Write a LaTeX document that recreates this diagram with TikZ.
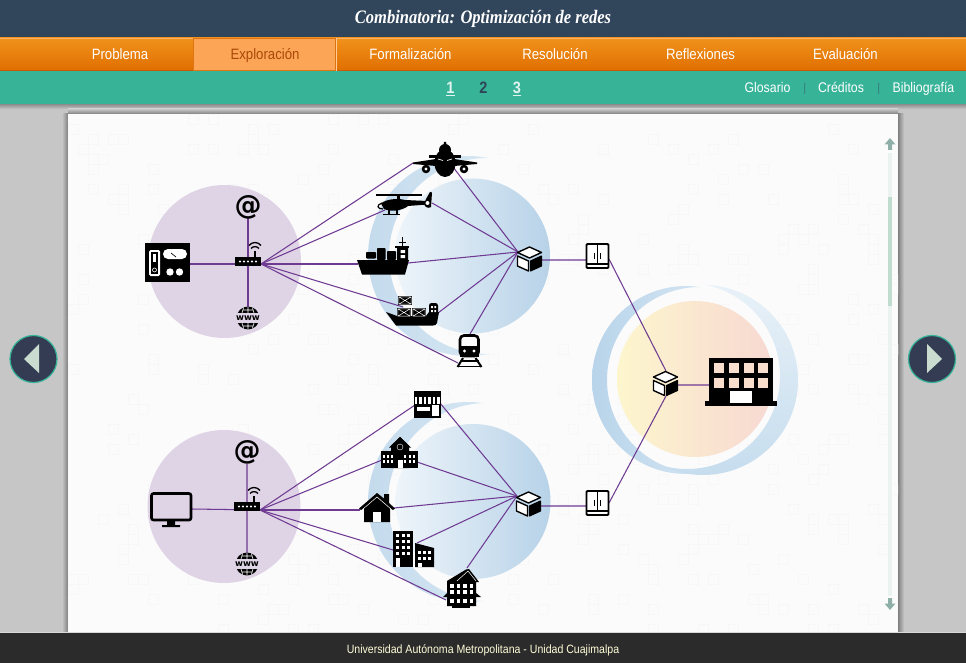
\documentclass[tikz,border=0pt]{standalone}
\usepackage{fontspec}
\setmainfont{Liberation Sans}
\newfontfamily\navfont[FakeStretch=0.88]{Liberation Sans}
\newfontfamily\titlefont[FakeStretch=0.87]{Liberation Serif}
\newfontfamily\atfont{DejaVu Sans}
\definecolor{navy}{HTML}{2F4359}
\definecolor{navyline}{HTML}{34495F}
\definecolor{teal}{HTML}{37B398}
\definecolor{pagegray}{HTML}{C6C6C6}
\definecolor{foot}{HTML}{2B2B2B}
\definecolor{link}{HTML}{6F3A92}
\definecolor{lilac}{HTML}{DED1E5}
\definecolor{navbtn}{HTML}{333C52}
\definecolor{navtri}{HTML}{CADCD0}
\definecolor{scrollarrow}{HTML}{8FB0A9}
\definecolor{orangetop}{HTML}{F0921C}
\definecolor{orangebot}{HTML}{E06E00}
\definecolor{orangeline}{HTML}{C65C04}
\definecolor{tabfill}{HTML}{FDA556}
\definecolor{tabline}{HTML}{E07410}
\definecolor{tabtext}{HTML}{A84808}
\definecolor{scrolltrack}{HTML}{EAF3F0}
\definecolor{scrollthumb}{HTML}{BFDCCF}
\definecolor{cresA}{HTML}{C4DBED}
\definecolor{cresB}{HTML}{E2EEF6}
\definecolor{cresC}{HTML}{B8D4EA}
\definecolor{cresD}{HTML}{E8F1F8}
\definecolor{cresE}{HTML}{C6DDEE}
\definecolor{discL}{HTML}{EEF5FA}
\definecolor{discR}{HTML}{B7D2E8}
\definecolor{warmL}{HTML}{FDF6CD}
\definecolor{warmR}{HTML}{F7D8D2}
\definecolor{bldwin}{HTML}{FADECD}
\newcommand\cres[5]{%
  \begin{scope}[even odd rule]
    \clip #1 circle (#2);
    \clip (-20,-20) rectangle (1000,700) #3 circle (#4);
    \shade[#5] #1 circle (#2);
  \end{scope}}
\tikzset{
  x=1pt,y=-1pt,
  linkline/.style={draw=link,line width=1.05pt},
  navtext/.style={anchor=base,text=white,font=\navfont\fontsize{15}{15}\selectfont,inner sep=0pt},
  subtext/.style={anchor=base,text=white,font=\navfont\fontsize{14}{14}\selectfont,inner sep=0pt},
  pagenum/.style={anchor=base,inner sep=0pt,font=\navfont\bfseries\fontsize{16.5}{16.5}\selectfont},
  iconhub/.pic={
    \fill[white,draw=black,line width=1.4pt,line join=round] (0,-12)--(12,-6.5)--(0,-1)--(-12,-6.5)--cycle;
    \fill[white,draw=black,line width=1.4pt,line join=round] (-12,-3)--(-1,2)--(-1,12)--(-12,7)--cycle;
    \fill[black,draw=black,line width=1.1pt,line join=round] (1,2)--(12,-3)--(12,7)--(1,12)--cycle;
  },
  iconcab/.pic={
    \draw[fill=white,draw=black,line width=1.8pt,rounded corners=1pt] (-11,-12) rectangle (11,12);
    \draw[black,line width=1.5pt] (-11,8)--(11,8);
    \draw[black,line width=1.2pt] (0,-12)--(0,8);
    \draw[black,line width=1.7pt] (-3,-3)--(-3,3) (3,-3)--(3,3);
  },
  iconrouter/.pic={
    \fill[black] (-13,-4.5) rectangle (13,4.5);
    \foreach \d in {-8,-4,0,4,8}{\fill[white] (\d,0) circle (1.1);}
    \draw[black,line width=1.6pt] (7,-4)--(7,-11);
    \draw[black,line width=1.3pt] (3,-13) .. controls (5,-15.5) and (9,-15.5) .. (11,-13);
    \draw[black,line width=1.3pt] (1,-16) .. controls (4,-20) and (10,-20) .. (13,-16);
  },
  iconglobe/.pic={
    \begin{scope}
      \clip (0,0) circle (11.5);
      \fill[black] (-12,-12) rectangle (12,-5);
      \fill[black] (-12,5) rectangle (12,12);
      \draw[white,line width=0.6pt] (-5,-8)--(5,-8) (-5,8)--(5,8) (0,-12)--(0,-5) (0,5)--(0,12) (-4,-12)--(-6,-5) (4,-12)--(6,-5) (-4,12)--(-6,5) (4,12)--(6,5);
    \end{scope}
    \node[inner sep=0pt,font=\atfont\bfseries\fontsize{8.6}{8.6}\selectfont] at (0,0) {www};
  },
}
\begin{document}
\begin{tikzpicture}
\useasboundingbox (0,0) rectangle (966,663);
% ---------- page background
\fill[pagegray] (0,0) rectangle (966,663);
\shade[top color=black!45,bottom color=pagegray] (0,104) rectangle (966,109);
\shade[left color=pagegray,right color=black!50] (62,114) rectangle (68,632);
\shade[left color=black!50,right color=pagegray] (898,114) rectangle (904,632);
\shade[top color=pagegray,bottom color=black!50] (68,109) rectangle (898,114);
% ---------- panel
\fill[white!98.5!black] (68,114) rectangle (898,632);
\pgfmathsetseed{4711}
\begin{scope}
\clip (68,114) rectangle (898,632);
\foreach \i in {1,...,420}{
  \pgfmathsetmacro\qx{68+10*int(rnd*83)}
  \pgfmathsetmacro\qy{114+10*int(rnd*52)}
  \draw[black!3,line width=0.5pt] (\qx,\qy) rectangle ++(10,10);
}
\end{scope}
% ---------- header bars
\fill[navy] (0,0) rectangle (966,38);
\begin{scope}
\clip (0,0) rectangle (966,38);
\foreach \i in {0,3,...,1010}{\draw[navyline,line width=0.7pt] (\i,0)--(\i-40,38);}
\end{scope}
\shade[top color=orangetop,bottom color=orangebot] (0,38) rectangle (966,71);
\fill[orange!60!white] (0,38) rectangle (966,39);
\fill[orangeline] (0,70) rectangle (966,71.5);
\fill[tabfill,draw=tabline,line width=1pt] (193.5,38.5) rectangle (335.5,70.5);
\fill[orange!40!white] (336,38) rectangle (337,71);
\fill[teal] (0,71.5) rectangle (966,104);
\node[anchor=base,inner sep=0pt,text=white,font=\titlefont\bfseries\itshape\fontsize{19}{19}\selectfont] (title) at (483,24) {Combinatoria: Optimización de redes};
\node[navtext] (nav1) at (120,60) {Problema};
\node[navtext,text=tabtext] (nav2) at (265,60) {Exploración};
\node[navtext] (nav3) at (410.5,60) {Formalización};
\node[navtext] (nav4) at (555,60) {Resolución};
\node[navtext] (nav5) at (700.5,60) {Reflexiones};
\node[navtext] (nav6) at (845.5,60) {Evaluación};
\node[pagenum,text=white!85!teal] (p1) at (450.5,93.5) {\underline{1}};
\node[pagenum,text=navy] (p2) at (483.5,93.5) {2};
\node[pagenum,text=white!85!teal] (p3) at (517,93.5) {\underline{3}};
\node[subtext] (g1) at (767.5,93) {Glosario};
\node[subtext] (g2) at (841,93) {Créditos};
\node[subtext] (g3) at (923.5,93) {Bibliografía};
\fill[teal!60!navy] (804,83) rectangle (805,94) (878,83) rectangle (879,94);
% ---------- footer
\fill[foot] (0,632) rectangle (966,663);
\fill[black!15] (0,631.5) rectangle (966,632.5);
\node[anchor=base,inner sep=0pt,text=white!85!yellow,font=\navfont\fontsize{12}{12}\selectfont] (footer) at (483,653) {Universidad Autónoma Metropolitana - Unidad Cuajimalpa};
% ---------- side buttons
\node[circle,fill=navbtn,draw=teal,line width=1.2pt,minimum size=47pt,inner sep=0pt] (btnL) at (33.5,359) {};
\node[circle,fill=navbtn,draw=teal,line width=1.2pt,minimum size=47pt,inner sep=0pt] (btnR) at (932,359) {};
\fill[navtri] (24,359)--(39,344)--(39,373)--cycle;
\fill[navtri] (942,359)--(927,344)--(927,373)--cycle;
% ---------- scrollbar
\fill[scrolltrack] (888,153) rectangle (892,596);
\fill[scrollthumb] (888,197) rectangle (892,306);
\fill[scrollarrow] (890,138)--(895.5,144.5)--(892,144.5)--(892,150)--(888,150)--(888,144.5)--(884.5,144.5)--cycle;
\fill[scrollarrow] (890,610)--(895.5,603.5)--(892,603.5)--(892,598)--(888,598)--(888,603.5)--(884.5,603.5)--cycle;
% ---------- backgrounds
\fill[lilac,opacity=.95] (224.5,261.5) circle (76.5);
\fill[lilac,opacity=.95] (224,506.5) circle (76.5);
\cres{(468,256)}{100}{(487,256)}{98}{left color=cresA,right color=cresB}
\shade[left color=discL,right color=discR] (472.5,256) circle (77.5);
\cres{(468,502)}{100}{(487,502)}{99}{left color=cresA,right color=cresB}
\shade[left color=discL,right color=discR] (473,501.5) circle (77.5);
\cres{(686,380)}{94}{(700,380)}{93}{left color=cresC,right color=cresD}
\cres{(703,380)}{95}{(687,376)}{93}{top color=cresD,bottom color=cresE}
\shade[left color=warmL,right color=warmR] (695,379) circle (78);
% ---------- connector end points
\coordinate (atA) at (248,218);
\coordinate (fanA) at (261,264);
\coordinate (wwwA) at (248,308);
\coordinate (devA) at (190,264);
\coordinate (planeIn) at (413,163);
\coordinate (heliIn) at (385,210);
\coordinate (shipIn) at (358,264);
\coordinate (cargoIn) at (403,307);
\coordinate (trainIn) at (458,363);
\coordinate (planeOut) at (453,167);
\coordinate (heliOut) at (432,203);
\coordinate (shipOut) at (408,263);
\coordinate (cargoOut) at (438,313);
\coordinate (trainOut) at (470,334);
\coordinate (hubAIn) at (518,252);
\coordinate (hubAOut) at (542,260);
\coordinate (cabAIn) at (586,260);
\coordinate (cabAOut) at (609,259);
\coordinate (bigTop) at (666,371);
\coordinate (bigBot) at (666,396);
\coordinate (bigOut) at (678,385);
\coordinate (bldIn) at (709,385);
\coordinate (atB) at (247,464);
\coordinate (fanB) at (260,510);
\coordinate (wwwB) at (247,553);
\coordinate (monB) at (192,509);
\coordinate (storeIn) at (415,405);
\coordinate (schoolIn) at (382,460);
\coordinate (houseIn) at (360,510);
\coordinate (officeIn) at (393,550);
\coordinate (aptIn) at (446,600);
\coordinate (storeOut) at (440,403);
\coordinate (schoolOut) at (417,462);
\coordinate (houseOut) at (394,508);
\coordinate (officeOut) at (417,543);
\coordinate (aptOut) at (467,568);
\coordinate (hubBIn) at (517,496);
\coordinate (hubBOut) at (541,506);
\coordinate (cabBIn) at (586,506);
\coordinate (cabBOut) at (609,503);
% ---------- connectors
\draw[linkline] (atA)--(wwwA) (devA)--(fanA);
\foreach \t in {planeIn,heliIn,shipIn,cargoIn,trainIn}{\draw[linkline] (fanA)--(\t);}
\foreach \t in {planeOut,heliOut,shipOut,cargoOut,trainOut}{\draw[linkline] (\t)--(hubAIn);}
\draw[linkline] (hubAOut)--(cabAIn) (cabAOut)--(bigTop);
\draw[linkline] (atB)--(wwwB) (monB)--(fanB);
\foreach \t in {storeIn,schoolIn,houseIn,officeIn,aptIn}{\draw[linkline] (fanB)--(\t);}
\foreach \t in {storeOut,schoolOut,houseOut,officeOut,aptOut}{\draw[linkline] (\t)--(hubBIn);}
\draw[linkline] (hubBOut)--(cabBIn) (cabBOut)--(bigBot) (bigOut)--(bldIn);
% ---------- network icons
\pic at (248,261.5) {iconrouter};
\pic at (247,506.5) {iconrouter};
\pic at (248,318) {iconglobe};
\pic at (247,564) {iconglobe};
\node[inner sep=0pt,font=\atfont\bfseries\fontsize{27}{27}\selectfont] (atIconA) at (248,207) {@};
\node[inner sep=0pt,font=\atfont\bfseries\fontsize{27}{27}\selectfont] (atIconB) at (247,452) {@};
\pic at (529.5,259) {iconhub};
\pic at (528.5,504) {iconhub};
\pic at (665.5,383.5) {iconhub};
\pic at (597.5,256) {iconcab};
\pic at (597.5,503) {iconcab};
% device
\fill[black] (145,243) rectangle (190,281.5);
\fill[white,rounded corners=1.5pt] (149,250) rectangle (160,276);
\fill[black] (151,252) rectangle (158,274);
\fill[white] (153,254) rectangle (156,262);
\draw[white,line width=.6pt] (154.5,270) circle (2);
\fill[white,rounded corners=5pt] (163,249) rectangle (187,259);
\draw[black,line width=.7pt] (171,253)--(176,257);
\fill[white] (170,272) circle (3.7) (179.5,272) circle (3.7);
% monitor
\draw[black,line width=2.6pt,rounded corners=2pt] (151.5,493.5) rectangle (191,520);
\fill[black] (167,521) rectangle (175,525) (162,525) rectangle (180,527);
% plane
\fill[black] (443.8,142)--(446.2,142)--(446.5,152)--(443.5,152)--cycle;
\fill[black] (429,155) rectangle (461,158);
\fill[black] (413,162.5)--(436,159)--(454,159)--(477,162.5)--(477,164)--(454,166)--(436,166)--(413,164)--cycle;
\fill[black] (445,163) ellipse (10.5 and 14);
\fill[black] (445,150) ellipse (6 and 6);
\fill[black] (426,169) circle (4.3) (464,169) circle (4.3);
\fill[white] (426,169) circle (1.6) (464,169) circle (1.6);
\draw[white,line width=.7pt] (438,159)--(443,160.5) (452,159)--(447,160.5);
% helicopter
\draw[black,line width=1.3pt] (376,195)--(422,195);
\fill[black] (397,195) rectangle (400,200);
\fill[black] (381,203.5) .. controls (386,199) and (398,198) .. (405,200) -- (427,201) -- (427,204.5) -- (408,206) .. controls (402,211) and (390,212) .. (384,209) -- cycle;
\draw[black,line width=1.2pt] (382,203) .. controls (376,205) and (377,209) .. (383,209);
\draw[black,line width=1.4pt] (389,210)--(389,214) (397,210)--(397,214) (383,214.5)--(400,214.5);
\fill[black] (426,199) -- (430,192) -- (432,192.5) -- (431.5,200) -- (431,207) .. controls (428,209) and (425,207) .. (424,204) -- cycle;
\fill[white] (427.5,203) circle (2);
% ship
\fill[black] (357,260)--(409,260)--(405,274.5)--(362,274.5)--cycle;
\fill[black,rounded corners=.8pt] (366,252) rectangle (376,258.5) (377,248) rectangle (385.5,260) (387,251) rectangle (396,260) (397,247) rectangle (408,261);
\fill[black] (395,246) rectangle (409,247.5);
\draw[black,line width=1pt] (402.5,237)--(402.5,247) (399,242.5)--(406,242.5);
\fill[white] (400.5,250) rectangle (405,253) (400.5,255) rectangle (405,258);
% cargo ship
\fill[black] (386,312)--(397,316)--(426,316)--(429,312)--(439,312)--(437,323) .. controls (436,325) and (435,325.5) .. (433,325.5) -- (396,325.5) -- cycle;
\foreach \ax/\ay in {398/296,397/308,412/308}{
  \fill[black] (\ax,\ay) rectangle ++(14,9);
  \draw[white,line width=.5pt] (\ax+.8,\ay+.8) rectangle (\ax+13.2,\ay+8.2) (\ax+.8,\ay+.8)--(\ax+13.2,\ay+8.2) (\ax+.8,\ay+8.2)--(\ax+13.2,\ay+.8);
}
\fill[black,rounded corners=2.5pt] (429,303) rectangle (438,314);
\fill[white] (431,306) rectangle (432.8,308) (434.4,306) rectangle (436.2,308) (431,310) rectangle (432.8,312) (434.4,310) rectangle (436.2,312);
% train
\draw[black,line width=2.6pt,rounded corners=4pt] (460,335.5) rectangle (478.5,356);
\fill[black] (460,346) rectangle (478.5,356.5);
\fill[white] (464.5,351) circle (1.7) (474,351) circle (1.7);
\draw[black,line width=2pt] (463,358)--(457.5,367) (475.5,358)--(481.5,367);
\draw[black,line width=1.8pt] (460.5,361)--(478.5,361) (457,366.5)--(482,366.5);
% big building
\fill[black] (709,358) rectangle (773,402);
\fill[black] (705,401) rectangle (777,406);
\foreach \wx in {714,729,744,758}{\foreach \wy in {363,378}{
  \fill[bldwin] (\wx,\wy) rectangle ++(10,9.5);}}
\fill[white] (730,391) rectangle (752,403);
% store
\fill[black] (414,391) rectangle (441,418);
\fill[white] (415,397) rectangle (440,404);
\foreach \sx in {417,421.5,426,430.5,435}{\fill[black] (\sx,396) rectangle ++(2,8.5);}
\fill[white] (417,407) rectangle (430,411);
\fill[white] (432,405) rectangle (438.5,416);
% school
\fill[black] (381,451) rectangle (418,468);
\fill[black] (400,437)--(409,446)--(409,468)--(391,468)--(391,446)--cycle;
\fill[black] (400,437)--(411,447.5)--(389,447.5)--cycle;
\draw[white,line width=.4pt] (400,447) circle (3);
\fill[white] (397.5,460) rectangle (402.5,468);
\foreach \wx in {384,388,392,405,409.5,414}{\foreach \wy in {455,460}{
  \fill[white] (\wx-1,\wy) rectangle ++(2.4,3);}}
% house
\fill[black] (377,493)--(384,498.5)--(384,494)--(389,494)--(389,503)--(395,508.5)--(393,510)--(390,508)--(390,522)--(364,522)--(364,508)--(361,510)--(359,508.5)--cycle;
\draw[white,line width=.5pt] (363,509)--(377,497)--(391,509);
\fill[white] (373,512) rectangle (381,522);
% offices
\fill[black] (393,531) rectangle (413,567);
\fill[black] (415,543)--(434,548)--(434,567)--(415,567)--cycle;
\foreach \wx in {396,401.5,407}{\foreach \wy in {534,540,546,552}{
  \fill[white] (\wx,\wy) rectangle ++(3.2,3.4);}}
\fill[white] (396,558) rectangle (400,567);
\foreach \wx in {418,423,428}{\foreach \wy in {551,557}{
  \fill[white] (\wx,\wy) rectangle ++(3,3);}}
\fill[white] (418,562.5) rectangle (421.5,567);
% apartment house
\fill[black] (447,581)--(466,569.5)--(469,569)--(479,582)--(476,582)--(476,606)--(447,606)--cycle;
\fill[black] (443,597)--(447,593)--(476,593)--(481,597)--cycle;
\fill[black] (452,603) rectangle (470,607.5);
\draw[white,line width=.5pt] (457,581)--(468,571)--(476,581);
\foreach \wx in {450,456.5,463,469.5}{\foreach \wy in {584,590,599}{
  \fill[white] (\wx,\wy) rectangle ++(3.8,3.8);}}
\end{tikzpicture}
\end{document}
